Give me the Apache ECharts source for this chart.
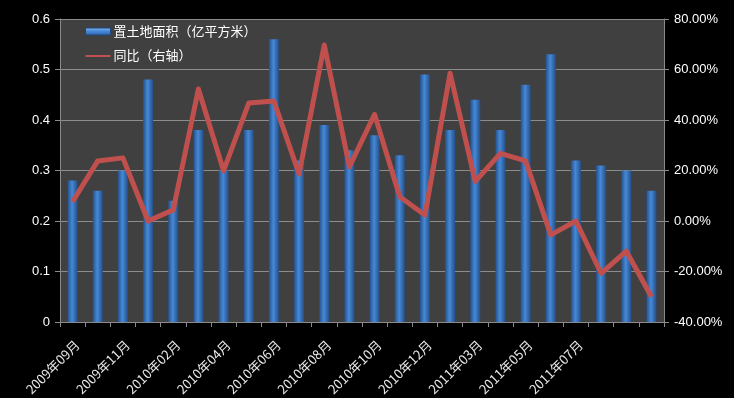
<!DOCTYPE html>
<html>
<head>
<meta charset="utf-8">
<script src="https://cdn.jsdelivr.net/npm/echarts@6/dist/echarts.min.js"></script>
<style>
  html, body { margin: 0; padding: 0; background: #000; }
  #chart { width: 734px; height: 398px; }
</style>
</head>
<body>
<div id="chart"></div>
<script>
const months = [
  '2009年09月', '2009年10月', '2009年11月', '2009年12月', '2010年02月', '2010年03月',
  '2010年04月', '2010年05月', '2010年06月', '2010年07月', '2010年08月', '2010年09月',
  '2010年10月', '2010年11月', '2010年12月', '2011年02月', '2011年03月', '2011年04月',
  '2011年05月', '2011年06月', '2011年07月', '2011年08月', '2011年09月', '2011年10月'
]
// 置土地面积（亿平方米）
const landArea = [
  0.28, 0.26, 0.30, 0.48, 0.24, 0.38, 0.30, 0.38, 0.56, 0.32, 0.39, 0.34,
  0.37, 0.33, 0.49, 0.38, 0.44, 0.38, 0.47, 0.53, 0.32, 0.31, 0.30, 0.26
]
// 同比（%）
const yoy = [
  7.6, 23.8, 25.0, 0.0, 4.4, 52.3, 19.9, 46.7, 47.5, 18.6, 69.7, 21.5,
  42.2, 9.6, 2.4, 58.5, 15.7, 26.8, 23.8, -5.5, 0.0, -20.7, -11.9, -30.0
]
// 只显示到 2011年07月 的标签
const lastLabelIndex = 20

const chart = echarts.init(document.getElementById('chart'))
const font = '"Noto Sans CJK SC", "Noto Sans", sans-serif'
const numFont = 'Arial, "Liberation Sans", sans-serif'

const barColor = new echarts.graphic.LinearGradient(0, 0, 1, 0, [
  { offset: 0, color: '#26518a' },
  { offset: 0.45, color: '#4689d8' },
  { offset: 1, color: '#254f87' },
])
const legendBarColor = new echarts.graphic.LinearGradient(0, 0, 0, 1, [
  { offset: 0, color: '#8fc0f5' },
  { offset: 0.4, color: '#4a8ede' },
  { offset: 1, color: '#2d64a8' },
])

chart.setOption({
  backgroundColor: '#000',
  animation: false,
  textStyle: { fontFamily: font },
  grid: {
    left: 60, right: 70, top: 19, bottom: 76,
    outerBoundsMode: 'none', containLabel: false,
    show: true, backgroundColor: '#404040', borderWidth: 0,
  },
  legend: {
    orient: 'vertical',
    left: 85, top: 25, padding: 0,
    itemWidth: 25, itemHeight: 7, itemGap: 11,
    textStyle: { color: '#fff', fontSize: 13, fontFamily: font, padding: [0, 0, 0, -2] },
    data: [
      {
        name: '置土地面积（亿平方米）', icon: 'rect',
        itemStyle: { color: legendBarColor, borderColor: '#1f4577', borderWidth: 1 },
      },
      {
        name: '同比（右轴）',
        icon: 'path://M0,0 L0.01,0 L0,0.01 Z M0,3 L25,3 L25,5 L0,5 Z M25,7 L24.99,7 L25,6.99 Z',
        itemStyle: { color: '#c0504d', borderWidth: 0 },
      },
    ],
  },
  xAxis: {
    type: 'category',
    data: months,
    boundaryGap: true,
    axisLine: { lineStyle: { color: '#8a8a8a', width: 1 } },
    axisTick: { show: true, interval: 0, length: 5, lineStyle: { color: '#8a8a8a' } },
    axisLabel: {
      interval: (i) => i % 2 === 0 && i <= lastLabelIndex,
      rotate: 45, color: '#e8e8e8', fontSize: 13, margin: 16,
      align: 'right', verticalAlign: 'top',
      fontFamily: font,
    },
  },
  yAxis: [
    {
      type: 'value', min: 0, max: 0.6, interval: 0.1,
      axisLine: { show: true, lineStyle: { color: '#8a8a8a' } },
      axisTick: { show: true, length: 5, lineStyle: { color: '#8a8a8a' } },
      splitLine: { lineStyle: { color: '#8c8c8c', width: 1 } },
      axisLabel: { color: '#fff', fontSize: 13, margin: 10, fontFamily: numFont },
    },
    {
      type: 'value', min: -40, max: 80, interval: 20,
      axisLine: { show: true, lineStyle: { color: '#8a8a8a' } },
      axisTick: { show: true, length: 5, lineStyle: { color: '#8a8a8a' } },
      splitLine: { show: false },
      axisLabel: {
        color: '#fff', fontSize: 13, margin: 10, fontFamily: numFont,
        formatter: v => v.toFixed(2) + '%',
      },
    },
  ],
  series: [
    {
      name: '置土地面积（亿平方米）',
      type: 'bar',
      data: landArea,
      barWidth: 10,
      itemStyle: { color: barColor },
    },
    {
      name: '同比（右轴）',
      type: 'line',
      yAxisIndex: 1,
      data: yoy,
      symbol: 'none',
      lineStyle: { color: '#c0504d', width: 5, join: 'round' },
      itemStyle: { color: '#c0504d' },
    },
  ],
})
</script>
</body>
</html>
